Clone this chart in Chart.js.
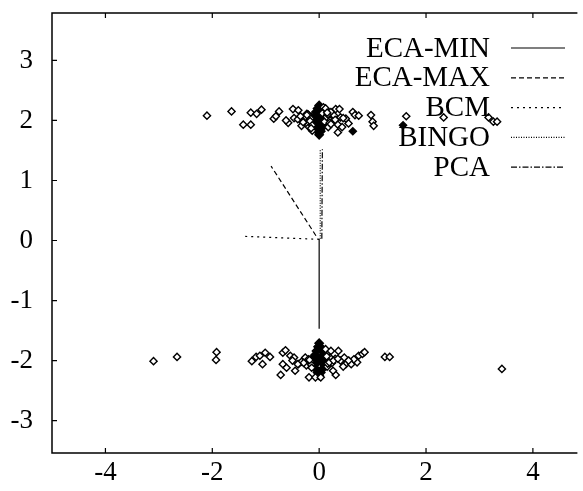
<!DOCTYPE html>
<html>
<head>
<meta charset="utf-8">
<script src="https://cdn.jsdelivr.net/npm/chart.js@4.4.1/dist/chart.umd.min.js"></script>
<style>
  html, body { margin: 0; padding: 0; background: #fff; overflow: hidden; }
  #wrap { width: 583px; height: 491px; }
</style>
</head>
<body>
<div id="wrap"><canvas id="c" width="583" height="491"></canvas></div>
<script>
// axis ticks
const xTicks = [-4, -2, 0, 2, 4];
const xTickLabels = ["-4", "-2", "0", "2", "4"];
const yTicks = [3, 2, 1, 0, -1, -2, -3];
const yTickLabels = ["3", "2", "1", "0", "-1", "-2", "-3"];

// upper cluster (open diamonds)
const topX = [-2.10, -1.64, -1.42, -1.28, -1.28, -1.17, -1.08, -0.85, -0.81, -0.75, -0.58, -0.49, -0.47, -0.39,
  -0.33, -0.28, -0.23, -0.19, -0.13, 0.08, 0.17, 0.22, 0.28, 0.31, 0.35, 0.38, 0.35, 0.43, 0.50, 0.63,
  0.67, 0.74, 0.97, 1.00, 1.02, 1.63, 2.33, 3.17, 3.26, 3.33,
  0.06, 0.18, -0.18, 0.10, -0.25, 0.25, -0.30, 0.40, -0.40, 0.55, -0.62, 0.14, -0.16, 0.20, -0.21,
  0.16, -0.17, 0.22, -0.23, 0.30, -0.35, 0.45, 0.12, -0.13, 0.15, -0.15];
const topY = [2.08, 2.15, 1.93, 1.93, 2.13, 2.11, 2.18, 2.03, 2.07, 2.15, 1.96, 2.19, 2.04, 2.17,
  1.91, 2.00, 2.11, 1.89, 1.83, 2.22, 1.89, 2.14, 2.08, 2.19, 1.80, 2.19, 1.93, 1.89, 2.03, 2.14,
  2.09, 2.08, 2.09, 1.98, 1.91, 2.07, 2.05, 2.05, 1.98, 1.98,
  2.12, 2.02, 2.05, 1.98, 2.06, 1.98, 1.97, 2.05, 2.02, 1.95, 2.00, 2.06, 2.03, 1.96, 2.10,
  2.10, 1.99, 1.94, 2.09, 2.01, 2.07, 2.04, 2.20, 1.92, 2.13, 1.87];

// dense core of the upper cluster (overlapping marks read as solid)
const topCoreX = [0.00, -0.03, 0.03, -0.06, 0.06, -0.08, 0.08, -0.10, 0.10, -0.07, 0.07, -0.05, 0.05, -0.03, 0.03, 0.00, -0.02, 0.02, 0.00,
  -0.15, 0.15, -0.13, 0.14, -0.20, 0.20];
const topCoreY = [2.25, 2.20, 2.20, 2.14, 2.14, 2.07, 2.07, 2.00, 2.00, 1.94, 1.94, 1.88, 1.88, 1.82, 1.82, 1.76, 2.04, 1.97, 2.10,
  2.05, 2.05, 1.97, 1.98, 2.08, 2.02];

// filled diamonds
const fillX = [0.63, 1.57, -0.30];
const fillY = [1.82, 1.92, 1.96];

// lower cluster (open diamonds)
const botX = [-3.10, -2.66, -1.92, -1.93, -1.26, -1.18, -1.11, -1.06, -1.01, -0.92, -0.72, -0.68, -0.63,
  -0.68, -0.61, -0.54, -0.47, -0.45, -0.39, -0.26, -0.19, -0.16, -0.07, 0.03, 0.12, 0.22, 0.31, 0.26,
  0.36, 0.40, 0.47, 0.50, 0.56, 0.60, 0.71, 0.74, 0.81, 0.85, 1.23, 1.32, 3.42,
  0.18, -0.16, 0.20, -0.20, 0.24, -0.24, 0.15, -0.33, 0.30, 0.45, -0.50, 0.65, 0.16, -0.15,
  0.19, -0.18, 0.27, -0.29, 0.35, -0.40, 0.55, 0.14, -0.14];
const botY = [-2.01, -1.94, -1.86, -1.99, -2.01, -1.94, -1.92, -2.06, -1.87, -1.94, -2.24, -1.87, -1.83,
  -2.06, -2.12, -1.92, -1.95, -2.17, -2.06, -1.95, -2.28, -2.06, -2.28, -2.28, -1.81, -1.84, -2.24, -2.17,
  -1.84, -2.00, -1.95, -2.06, -2.01, -2.06, -2.03, -1.92, -1.89, -1.86, -1.94, -1.94, -2.14,
  -2.00, -2.01, -1.95, -1.98, -2.04, -2.08, -2.10, -2.02, -1.97, -2.10, -2.00, -1.98, -2.05, -2.07,
  -2.03, -1.99, -2.00, -2.04, -1.97, -2.06, -2.00, -1.93, -2.12];

// dense core of the lower cluster
const botCoreX = [0.00, -0.02, 0.02, -0.05, 0.05, -0.08, 0.08, -0.11, 0.11, -0.09, 0.09, -0.06, 0.06, -0.03, 0.03, 0.00, 0.00, -0.04, 0.04,
  -0.15, 0.15, -0.20, 0.22, -0.13, 0.13];
const botCoreY = [-1.71, -1.77, -1.77, -1.84, -1.84, -1.91, -1.91, -1.99, -1.99, -2.07, -2.07, -2.14, -2.14, -2.20, -2.20, -2.25, -1.99, -2.03, -1.95,
  -2.00, -2.00, -2.04, -1.98, -2.08, -1.93];

// direction vectors from the origin
const ecaMin = [[0, 0.03], [0, -1.47]];
const ecaMax = [[-0.06, 0.08], [-0.90, 1.24]];
const bcm = [[0, 0.02], [-1.43, 0.07]];
const bingo = [[0.02, 0.03], [0.02, 1.52]];
const pca = [[0.05, 0.03], [0.06, 1.52]];

const pts = (xs, ys) => xs.map((x, i) => ({ x: x, y: ys[i] }));
const seg = a => a.map(p => ({ x: p[0], y: p[1] }));

function vec(label, data, dash) {
  return {
    label: label,
    data: seg(data),
    showLine: true,
    borderColor: "#000",
    borderWidth: 1.2,
    borderDash: dash,
    pointRadius: 0,
    fill: false
  };
}

function cloud(label, data, fill, r) {
  return {
    label: label,
    data: data,
    pointStyle: "rectRot",
    pointRadius: r || 3.6,
    borderWidth: 1.4,
    borderColor: "#000",
    backgroundColor: fill
  };
}

const legendPlugin = {
  id: "gnuLegend",
  afterDraw(chart) {
    const ctx = chart.ctx;
    ctx.save();
    ctx.font = "29px 'Liberation Serif'";
    ctx.fillStyle = "#000";
    ctx.textAlign = "right";
    ctx.textBaseline = "middle";
    let i = 0;
    chart.data.datasets.forEach(ds => {
      if (!ds.showLine) return;
      const y = 48 + i * 29.8;
      ctx.fillText(ds.label, 490, y + 1);
      ctx.strokeStyle = "#000";
      ctx.lineWidth = 1.2;
      ctx.setLineDash(ds.borderDash);
      ctx.beginPath();
      ctx.moveTo(511, y);
      ctx.lineTo(565, y);
      ctx.stroke();
      i++;
    });
    ctx.restore();
  }
};

const framePlugin = {
  id: "frame",
  afterDraw(chart) {
    const ctx = chart.ctx;
    const a = chart.chartArea;
    const xs = chart.scales.x, ys = chart.scales.y;
    ctx.save();
    ctx.strokeStyle = "#000";
    ctx.lineWidth = 1.5;
    ctx.beginPath();
    ctx.moveTo(a.right, a.top); ctx.lineTo(a.left, a.top);
    ctx.lineTo(a.left, a.bottom); ctx.lineTo(a.right, a.bottom);
    ctx.stroke();
    ctx.lineWidth = 1.2;
    ctx.beginPath();
    xTicks.forEach(v => {
      const px = xs.getPixelForValue(v);
      ctx.moveTo(px, a.bottom); ctx.lineTo(px, a.bottom - 5);
      ctx.moveTo(px, a.top); ctx.lineTo(px, a.top + 5);
    });
    yTicks.forEach(v => {
      const py = ys.getPixelForValue(v);
      ctx.moveTo(a.left, py); ctx.lineTo(a.left + 5, py);
    });
    ctx.stroke();
    ctx.restore();
  }
};

new Chart(document.getElementById("c"), {
  type: "scatter",
  data: {
    datasets: [
      vec("ECA-MIN", ecaMin, []),
      vec("ECA-MAX", ecaMax, [5, 3]),
      vec("BCM", bcm, [2, 4]),
      vec("BINGO", bingo, [1, 1.5]),
      vec("PCA", pca, [6, 2, 1.5, 2]),
      cloud("top", pts(topX, topY), "#fff"),
      cloud("bottom", pts(botX, botY), "#fff"),
      cloud("filled", pts(fillX, fillY), "#000"),
      cloud("topCore", pts(topCoreX, topCoreY), "#000", 4.2),
      cloud("botCore", pts(botCoreX, botCoreY), "#000", 4.2)
    ]
  },
  options: {
    responsive: false,
    animation: false,
    devicePixelRatio: 1,
    layout: { padding: { top: 13, right: 0, left: 0, bottom: 0 } },
    plugins: { legend: { display: false }, tooltip: { enabled: false } },
    scales: {
      x: {
        type: "linear",
        min: -5,
        max: 4.833,
        afterBuildTicks: s => { s.ticks = xTicks.map(v => ({ value: v })); },
        afterFit: s => { s.height = 38; s.paddingLeft = 0; s.paddingRight = 0; },
        grid: { display: false, drawTicks: false },
        border: { display: false },
        ticks: {
          autoSkip: false,
          maxRotation: 0,
          padding: 4,
          color: "#000",
          font: { family: "'Liberation Serif'", size: 27 },
          callback: (v) => xTickLabels[xTicks.indexOf(v)]
        }
      },
      y: {
        type: "linear",
        min: -3.54,
        max: 3.79,
        afterBuildTicks: s => { s.ticks = yTicks.map(v => ({ value: v })); },
        afterFit: s => { s.width = 52; s.paddingTop = 0; s.paddingBottom = 0; },
        grid: { display: false, drawTicks: false },
        border: { display: false },
        ticks: {
          autoSkip: false,
          padding: 19,
          color: "#000",
          font: { family: "'Liberation Serif'", size: 27 },
          callback: (v) => yTickLabels[yTicks.indexOf(v)]
        }
      }
    }
  },
  plugins: [framePlugin, legendPlugin]
});
</script>
</body>
</html>
